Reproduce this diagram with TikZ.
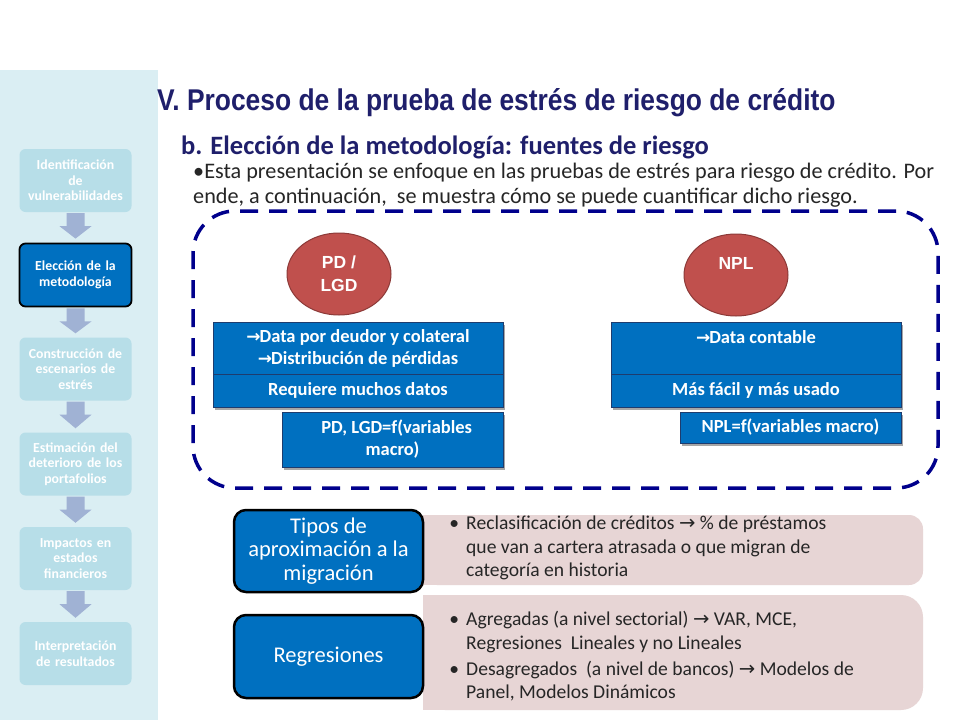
\documentclass[tikz,border=0pt]{standalone}
\usepackage{fontspec}
\usepackage{graphicx}
\setmainfont{Carlito}
\newfontfamily\arialf{Liberation Sans}
\newfontfamily\djf{DejaVu Sans}
\usetikzlibrary{shapes.geometric,shadows,calc}
\definecolor{sidebg}{RGB}{218,238,243}
\definecolor{sbfill}{RGB}{183,222,232}
\definecolor{arrc}{RGB}{160,178,212}
\definecolor{selblue}{RGB}{0,112,192}
\definecolor{navy}{RGB}{31,31,107}
\definecolor{dashc}{RGB}{0,0,140}
\definecolor{ellred}{RGB}{192,80,77}
\definecolor{ellbd}{RGB}{140,58,56}
\definecolor{bbd}{RGB}{30,60,110}
\definecolor{pinkc}{RGB}{231,213,213}
\definecolor{txtc}{RGB}{38,38,38}
\newcommand{\rarr}{{\djf\bfseries\fontsize{17}{17}\selectfont →}\kern-1pt}
\newcommand{\barr}{{\djf →}}
\begin{document}
\begin{tikzpicture}[x=1pt,y=-1pt,
  sbox/.style={rounded corners=6pt, fill=sbfill, text=white, font=\bfseries\fontsize{13.8}{15.5}\selectfont, align=center, minimum width=112pt, minimum height=63pt, inner sep=0pt, text width=112pt},
  ell/.style={ellipse, fill=ellred, draw=ellbd, line width=1pt, minimum width=104pt, minimum height=82pt, inner sep=0pt, text=white, font=\arialf\bfseries\fontsize{17.5}{23}\selectfont, align=center},
  bbox/.style={fill=selblue, draw=bbd, line width=0.5pt, text=white, font=\bfseries\fontsize{18.5}{22}\selectfont, align=center, inner sep=0pt, drop shadow={shadow xshift=2pt, shadow yshift=-2.5pt, fill=black, opacity=0.35}},
  tbox/.style={fill=selblue, draw=black, line width=2.5pt, rounded corners=12pt, text=white, font=\fontsize{22.5}{23.5}\selectfont, align=center, minimum width=189pt, minimum height=82pt, inner sep=0pt},
  pbox/.style={fill=pinkc, rounded corners=14pt, inner sep=0pt},
  btext/.style={anchor=north west, inner sep=0pt, text=txtc, font=\fontsize{19.6}{23.5}\selectfont, align=left},
  sarrow/.style={fill=arrc}
]
\useasboundingbox (0,0) rectangle (960,720);
\fill[white] (0,0) rectangle (960,720);
\fill[sidebg] (0,70) rectangle (158,720);

% sidebar steps
\node[sbox] (s1) at (75.5,180.5) {Identificación\\de\\vulnerabilidades};
\node[sbox, fill=selblue, draw=black, line width=1.8pt] (s2) at (75.5,275) {Elección de la\\metodología};
\node[sbox] (s3) at (75.5,369) {Construcción de\\escenarios de\\estrés};
\node[sbox] (s4) at (75.5,464) {Estimación del\\deterioro de los\\portafolios};
\node[sbox] (s5) at (75.5,558.5) {Impactos en\\estados\\financieros};
\node[sbox] (s6) at (75.5,653.5) {Interpretación\\de resultados};
\foreach \a/\b in {s1/s2,s2/s3,s3/s4,s4/s5,s5/s6}{
  \fill[sarrow] ($(\a.south)+(-9,1)$) -- ($(\a.south)+(9,1)$) -- ($(\a.south)+(9,14)$)
    -- ($(\a.south)+(16,14)$) -- ($(\b.north)+(0,-4)$) -- ($(\a.south)+(-16,14)$)
    -- ($(\a.south)+(-9,14)$) -- cycle;
}

% titles
\node[anchor=west, inner sep=0pt, text=navy, font=\arialf\bfseries\fontsize{30}{30}\selectfont] (title) at (157,103)
  {\scalebox{0.88}[1]{V. Proceso de la prueba de estrés de riesgo de crédito}};
\node[anchor=west, inner sep=0pt, text=navy, font=\bfseries\fontsize{26.5}{26.5}\selectfont] (sub) at (181,147)
  {b. Elección de la metodología: fuentes de riesgo};
\node[anchor=north west, inner sep=0pt, text=txtc, font=\fontsize{22.2}{25}\selectfont, align=left] (intro) at (193,163)
  {•Esta presentación se enfoque en las pruebas de estrés para riesgo de crédito. Por\\ende, a continuación,\ \ se muestra cómo se puede cuantificar dicho riesgo.};

% dashed frame
\node[draw=dashc, line width=3.5pt, dash pattern=on 18pt off 11pt, rounded corners=42pt,
  minimum width=745pt, minimum height=277pt, inner sep=0pt] (frame) at (565.5,349.5) {};

% ellipses
\node[ell] (pd) at (339,274) {PD /\\LGD};
\node[ell] (npl) at (736,275) {NPL\\\phantom{L}};

% blue boxes
\node[bbox, minimum width=290pt, minimum height=52pt] (l1) at (358,348)
  {\rarr Data por deudor y colateral\\\rarr Distribución de pérdidas};
\node[bbox, minimum width=290pt, minimum height=33pt] (l2) at (358,390.5) {Requiere muchos datos};
\node[bbox, minimum width=221pt, minimum height=55pt] (l3) at (392.5,439.5) {\ \ PD, LGD=f(variables\\macro)};
\node[bbox, minimum width=290pt, minimum height=52pt] (r1) at (756,348) {\rarr Data contable\\\phantom{D}};
\node[bbox, minimum width=290pt, minimum height=33pt] (r2) at (756,390.5) {Más fácil y más usado};
\node[bbox, minimum width=221pt, minimum height=31pt] (r3) at (790.5,427.5) {NPL=f(variables macro)};

% pink panels
\node[pbox, minimum width=500pt, minimum height=70pt] (p1) at (673,550) {};
\fill[pinkc] (p1.north west) rectangle ($(p1.south west)+(30,0)$);
\node[pbox, minimum width=500pt, minimum height=115pt, rounded corners=22pt] (p2) at (673,652.5) {};
\fill[pinkc] (p2.north west) rectangle ($(p2.south west)+(30,0)$);

% dark blue labels
\node[tbox] (tipos) at (328.5,551) {Tipos de\\aproximación a la\\migración};
\node[tbox, minimum height=83pt] (reg) at (328.5,656.5) {Regresiones};

% bullet texts
\node[btext] (t1) at (466,516)
  {\llap{•\hspace{7pt}}Reclasificación de créditos \barr\ \% de préstamos\\que van a cartera atrasada o que migran de\\categoría en historia};
\node[btext] (t2) at (466,611)
  {\llap{•\hspace{7pt}}Agregadas (a nivel sectorial) \barr\ VAR, MCE,\\Regresiones\ \ Lineales y no Lineales\\[2.5pt]\llap{•\hspace{7pt}}Desagregados\ \ (a nivel de bancos) \barr\ Modelos de\\Panel, Modelos Dinámicos};
\end{tikzpicture}
\end{document}
